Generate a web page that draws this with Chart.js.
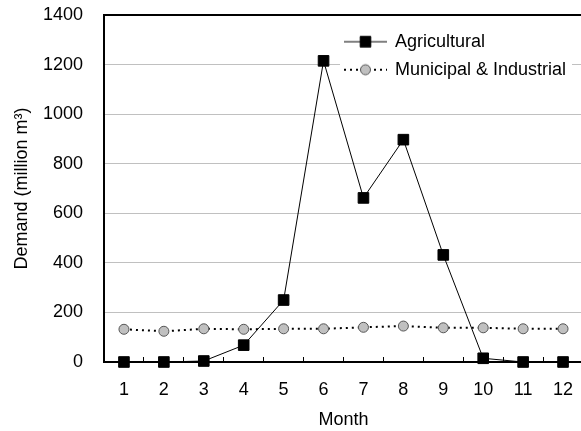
<!DOCTYPE html>
<html><head><meta charset="utf-8">
<script src="https://cdn.jsdelivr.net/npm/chart.js@4.4.1/dist/chart.umd.min.js"></script>
<style>
html,body{margin:0;padding:0;overflow:hidden;background:#fff;}
#wrap{position:relative;width:600px;height:431px;}
</style></head><body>
<div id="wrap"><canvas id="c"></canvas></div>
<script>
// ---- data ----
const months = ['1','2','3','4','5','6','7','8','9','10','11','12'];
const agricultural = [0, 0, 4, 68, 250, 1215, 662, 897, 432, 15, 0, 0];
const municipalIndustrial = [132, 124, 134, 132, 134, 134, 140, 145, 138, 138, 134, 134];
const seriesNames = ['Agricultural', 'Municipal & Industrial'];
const yTitle = 'Demand (million m\u00B3)';
const xTitle = 'Month';
const yMin = 0, yMax = 1400, yStep = 200;

// ---- styles ----
const FONT = { family: "'Liberation Sans', Arial, sans-serif", size: 18 };

function makeIcon(ds) {
  const w = 43, h = 14;
  const c = document.createElement('canvas');
  c.width = w; c.height = h;
  const g = c.getContext('2d');
  g.strokeStyle = ds.borderColor;
  g.lineWidth = ds.borderWidth;
  g.setLineDash(ds.borderDash || []);
  g.beginPath(); g.moveTo(0, h / 2); g.lineTo(w, h / 2); g.stroke();
  g.setLineDash([]);
  g.fillStyle = ds.pointBackgroundColor;
  g.strokeStyle = ds.pointBorderColor;
  g.lineWidth = ds.pointBorderWidth;
  if (ds.pointStyle === 'rect') {
    const s = ds.pointRadius * Math.SQRT1_2;
    g.beginPath(); g.rect(w / 2 - s, h / 2 - s, 2 * s, 2 * s); g.fill(); g.stroke();
  } else {
    g.beginPath(); g.arc(w / 2, h / 2, ds.pointRadius, 0, Math.PI * 2); g.fill(); g.stroke();
  }
  return c;
}

const legendPlacement = {
  id: 'legendPlacement',
  afterLayout(chart, args, opts) {
    const lg = chart.legend;
    if (!lg) return;
    lg.left = opts.x; lg.top = opts.y;
    lg.right = lg.left + lg.width; lg.bottom = lg.top + lg.height;
    if (!lg.__bgWrapped) {
      const orig = lg.draw;
      lg.draw = function (area) {
        const ctx = chart.ctx;
        ctx.save();
        ctx.fillStyle = '#ffffff';
        ctx.fillRect(opts.bg[0], opts.bg[1], opts.bg[2], opts.bg[3]);
        ctx.restore();
        orig.call(this, area);
      };
      lg.__bgWrapped = true;
    }
  }
};

new Chart(document.getElementById('c'), {
  type: 'line',
  data: {
    labels: months,
    datasets: [
      {
        label: seriesNames[0], data: agricultural,
        borderColor: '#000', borderWidth: 1, tension: 0, fill: false,
        pointStyle: 'rect', pointRadius: 7.5, pointHoverRadius: 7.5,
        pointBackgroundColor: '#000', pointBorderColor: '#000', pointBorderWidth: 1,
        clip: false
      },
      {
        label: seriesNames[1], data: municipalIndustrial,
        borderColor: '#000', borderWidth: 2, borderDash: [2, 4], tension: 0, fill: false,
        pointStyle: 'circle', pointRadius: 5, pointHoverRadius: 5,
        pointBackgroundColor: '#c0c0c0', pointBorderColor: '#555', pointBorderWidth: 1,
        clip: false
      }
    ]
  },
  options: {
    responsive: true, maintainAspectRatio: false, animation: false,
    devicePixelRatio: 1,
    layout: { padding: { top: 0, right: 17, bottom: 0, left: 0 } },
    plugins: {
      tooltip: { enabled: false },
      legend: {
        position: 'chartArea', align: 'start',
        labels: {
          usePointStyle: true, pointStyleWidth: 41, padding: 10,
          font: FONT, color: '#000',
          generateLabels(chart) {
            return chart.data.datasets.map((ds, i) => ({
              text: ds.label, pointStyle: makeIcon(ds), datasetIndex: i,
              hidden: false, lineWidth: 0, fillStyle: '#000', strokeStyle: '#000',
              fontColor: '#000', textAlign: 'left'
            }));
          }
        }
      },
      legendPlacement: { x: 335, y: 22.7, bg: [340, 27, 232, 57] }
    },
    scales: {
      x: {
        type: 'category', offset: true,
        grid: { offset: true, drawOnChartArea: false, drawTicks: true, tickLength: -5, color: '#000', tickWidth: 1 },
        border: { display: true, color: '#000', width: 2 },
        ticks: { color: '#000', font: FONT, padding: 22, maxRotation: 0, autoSkip: false },
        title: { display: true, text: xTitle, color: '#000', font: FONT, padding: { top: 0, bottom: 0 } },
        afterFit(s) { s.height = 69; }
      },
      y: {
        min: yMin, max: yMax,
        ticks: { stepSize: yStep, padding: 21, color: '#000', font: FONT, callback: v => String(v) },
        grid: {
          drawTicks: false,
          color: c => (c.tick && c.tick.value === yMax) ? '#000' : '#c0c0c0',
          lineWidth: c => (c.tick && c.tick.value === yMax) ? 2 : 1
        },
        border: { display: true, color: '#000', width: 2 },
        title: { display: true, text: yTitle, color: '#000', font: FONT, padding: { top: 11, bottom: 0 } },
        afterFit(s) { s.width = 104; s.paddingTop = 15; }
      }
    }
  },
  plugins: [legendPlacement]
});
</script>
</body></html>
